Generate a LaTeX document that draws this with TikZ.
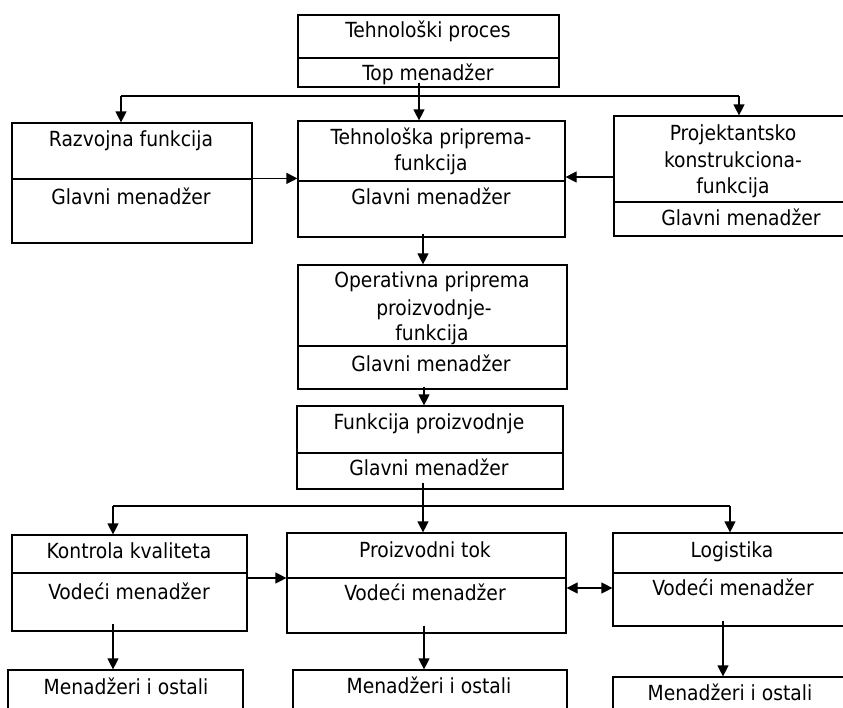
\documentclass[tikz,border=0pt]{standalone}
\usepackage{fontspec}
\setmainfont{DejaVu Sans Condensed}
\usetikzlibrary{arrows.meta,fit,calc}
\begin{document}
\begin{tikzpicture}[x=1pt,y=-1pt,
  part/.style={draw,line width=1.2pt,inner sep=0pt},
  txt/.style={inner sep=0pt,text height=15pt,text depth=0pt,font=\fontsize{20.8}{24}\selectfont},
  ln/.style={line width=1.2pt},
  arr/.style={line width=1.2pt,-{Triangle[length=11pt,width=11pt]}},
  dbl/.style={line width=1.2pt,{Triangle[length=11pt,width=11pt]}-{Triangle[length=11pt,width=11pt]}}]
\useasboundingbox (0,0) rectangle (843,707);
\clip (0,0) rectangle (843,707);
% boxes
\node[part,fit={(298,15)(559,58)}] (topU) {};
\node[part,fit={(298,58)(559,87)}] (topL) {};
\node[part,fit={(12,123)(252,179)}] (razU) {};
\node[part,fit={(12,179)(252,243)}] (razL) {};
\node[part,fit={(298,121)(565,181)}] (tehU) {};
\node[part,fit={(298,181)(565,237)}] (tehL) {};
\node[part,fit={(614,116)(860,202)}] (projU) {};
\node[part,fit={(614,202)(860,236)}] (projL) {};
\node[part,fit={(298,265)(567,346)}] (opU) {};
\node[part,fit={(298,346)(567,389)}] (opL) {};
\node[part,fit={(297,406)(563,453)}] (fpU) {};
\node[part,fit={(297,453)(563,489)}] (fpL) {};
\node[part,fit={(12,535)(247,573)}] (kkU) {};
\node[part,fit={(12,573)(247,631)}] (kkL) {};
\node[part,fit={(287,533)(566,578)}] (ptU) {};
\node[part,fit={(287,578)(566,633)}] (ptL) {};
\node[part,fit={(613,533)(860,573)}] (lgU) {};
\node[part,fit={(613,573)(860,626)}] (lgL) {};
\node[part,fit={(8,670)(243,720)}] (mA) {};
\node[part,fit={(293,670)(567,720)}] (mB) {};
\node[part,fit={(613,677)(860,720)}] (mC) {};
% texts
\node[txt] (t1) at (428,30) {Tehnološki proces};
\node[txt] (t2) at (428,73) {Top menadžer};
\node[txt] (t3) at (131,139) {Razvojna funkcija};
\node[txt] (t4) at (131,197) {Glavni menadžer};
\node[txt] (t5) at (431,137) {Tehnološka priprema-};
\node[txt] (t6) at (431,163) {funkcija};
\node[txt] (t7) at (431,197) {Glavni menadžer};
\node[txt] (t8) at (733,133) {Projektantsko};
\node[txt] (t9) at (733,160) {konstrukciona-};
\node[txt] (t10) at (733,186) {funkcija};
\node[txt] (t11) at (741,218) {Glavni menadžer};
\node[txt] (t12) at (432,280) {Operativna priprema};
\node[txt] (t13) at (434,308) {proizvodnje-};
\node[txt] (t14) at (432,333) {funkcija};
\node[txt] (t15) at (431,364) {Glavni menadžer};
\node[txt] (t16) at (429,422) {Funkcija proizvodnje};
\node[txt] (t17) at (429,468) {Glavni menadžer};
\node[txt] (t18) at (129,551) {Kontrola kvaliteta};
\node[txt] (t19) at (129,592) {Vodeći menadžer};
\node[txt] (t20) at (425,550) {Proizvodni tok};
\node[txt] (t21) at (425,593) {Vodeći menadžer};
\node[txt] (t22) at (732,550) {Logistika};
\node[txt] (t23) at (733,588) {Vodeći menadžer};
\node[txt] (t24) at (126,687) {Menadžeri i ostali};
\node[txt] (t25) at (429,686) {Menadžeri i ostali};
\node[txt] (t26) at (730,693) {Menadžeri i ostali};
% connector coordinates
\coordinate (b1) at (419,96);
\coordinate (b1l) at (121,96);
\coordinate (b1r) at (739,96);
\coordinate (c2) at (423,0);
\coordinate (c3) at (424,0);
\coordinate (b2) at (423,506);
\coordinate (b2l) at (113,506);
\coordinate (b2r) at (730,506);
\coordinate (rp) at (0,177);
\coordinate (rk) at (0,578);
\coordinate (rl) at (0,588);
\coordinate (cm3) at (723,0);
% connectors
\draw[arr] ($(b1 |- topL.south)+(0,-5)$) -- (b1 |- tehU.north);
\draw[ln] (b1l) -- (b1r);
\draw[arr] (b1l) -- (b1l |- razU.north);
\draw[arr] (b1r) -- (b1r |- projU.north);
\draw[arr] (razL.north east) -- (razL.north east -| tehL.west);
\draw[arr] (projU.west |- rp) -- (tehU.east |- rp);
\draw[arr] ($(c2 |- tehL.south)+(0,-4)$) -- (c2 |- opU.north);
\draw[arr] ($(c3 |- opL.south)+(0,-3)$) -- (c3 |- fpU.north);
\draw[arr] ($(b2 |- fpL.south)+(0,-7)$) -- (b2 |- ptU.north);
\draw[ln] (b2l) -- (b2r);
\draw[arr] (b2l) -- (b2l |- kkU.north);
\draw[arr] (b2r) -- (b2r |- lgU.north);
\draw[arr] (kkL.east |- rk) -- (ptL.west |- rk);
\draw[dbl] (ptL.east |- rl) -- (lgL.west |- rl);
\draw[arr] ($(b2l |- kkL.south)+(0,-8)$) -- (b2l |- mA.north);
\draw[arr] ($(c3 |- ptL.south)+(0,-8)$) -- (c3 |- mB.north);
\draw[arr] ($(cm3 |- lgL.south)+(0,-6)$) -- (cm3 |- mC.north);
\end{tikzpicture}
\end{document}
